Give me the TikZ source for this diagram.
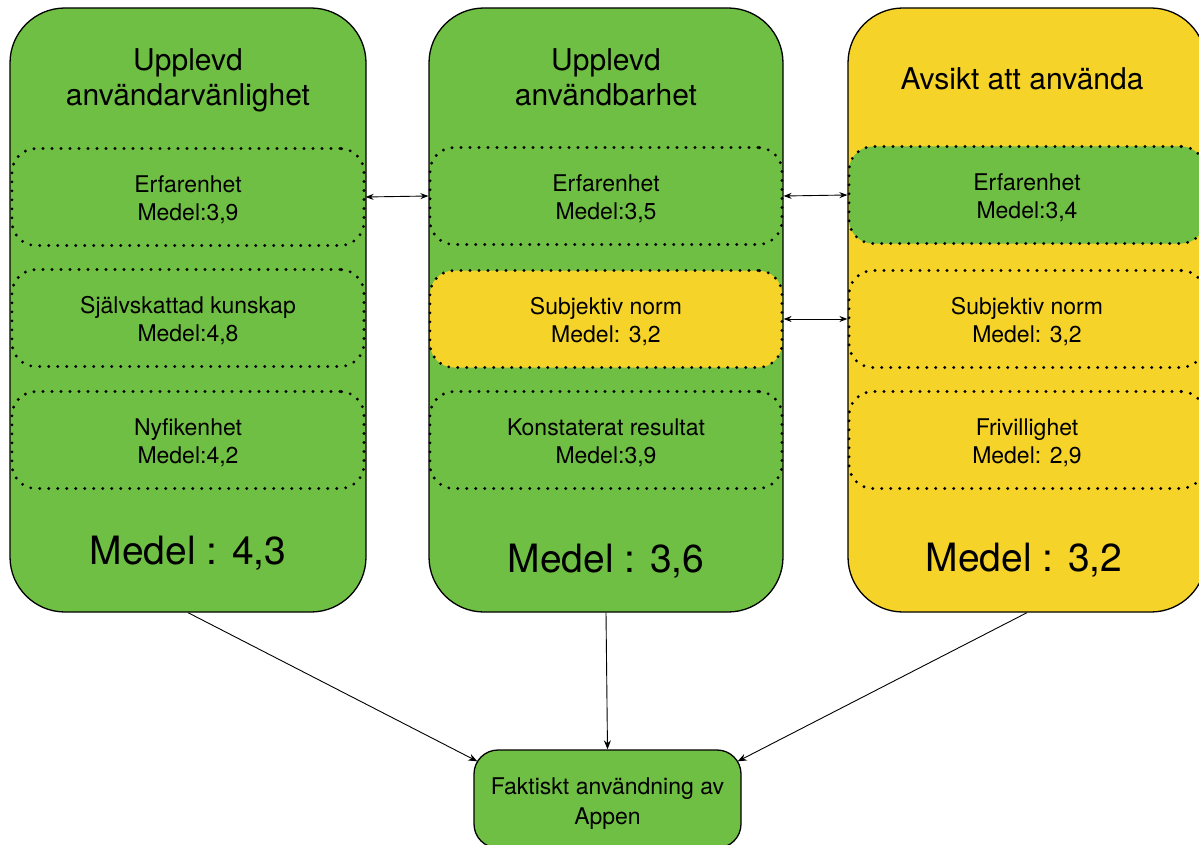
\documentclass[tikz,border=0pt]{standalone}
\usepackage{fontspec}
\setmainfont{TeX Gyre Heros}
\usetikzlibrary{arrows.meta,calc}
\definecolor{boxgreen}{RGB}{111,191,68}
\definecolor{boxyellow}{RGB}{245,211,41}
\tikzset{
  bigbox/.style={draw=black, line width=1.3pt, rounded corners=55pt, inner sep=0pt},
  subbox/.style={draw=black, line width=3.2pt, line cap=round, dash pattern=on 0pt off 9pt,
    rounded corners=24pt, minimum height=97pt, align=center, inner sep=0pt,
    font=\fontsize{23}{28}\selectfont},
  titletext/.style={align=center, font=\fontsize{30}{35}\selectfont},
  meantext/.style={font=\fontsize{39}{45}\selectfont},
  link/.style={line width=0.9pt, {Stealth[length=8pt,width=6pt]}-{Stealth[length=8pt,width=6pt]}},
  flow/.style={line width=0.9pt, -{Stealth[length=9pt,width=7pt]}},
}
\newcommand{\lowerby}[1]{\rule{0pt}{#1}}
\begin{document}
\begin{tikzpicture}[x=1pt,y=-1pt]
\useasboundingbox (0,0) rectangle (1199,845);
\clip (0,0) rectangle (1199,845);

% three main constructs
\node[bigbox, fill=boxgreen, minimum width=356pt, minimum height=604pt] (L) at (188,310) {};
\node[bigbox, fill=boxgreen, minimum width=354pt, minimum height=604pt] (M) at (606,310) {};
\node[bigbox, fill=boxyellow, minimum width=358pt, minimum height=604pt] (R) at (1027,310) {};

% headings
\node[titletext] (Lt) at (188,80) {Upplevd\\användarvänlighet};
\node[titletext] (Mt) at (606,77) {Upplevd\\användbarhet};
\node[titletext] (Rt) at (1022,79) {Avsikt att använda};

% sub-factors, left column
\node[subbox, fill=boxgreen, minimum width=352pt] (L1) at (188,197) {\lowerby{23pt}Erfarenhet\\Medel:3,9};
\node[subbox, fill=boxgreen, minimum width=352pt] (L2) at (188,318) {\lowerby{23pt}Självskattad kunskap\\Medel:4,8};
\node[subbox, fill=boxgreen, minimum width=352pt] (L3) at (188,440) {\lowerby{23pt}Nyfikenhet\\Medel:4,2};

% sub-factors, middle column
\node[subbox, fill=boxgreen, minimum width=352pt] (M1) at (606,196) {\lowerby{23pt}Erfarenhet\\Medel:3,5};
\node[subbox, fill=boxyellow, minimum width=352pt] (M2) at (606,319) {\lowerby{23pt}Subjektiv norm\\Medel: 3,2};
\node[subbox, fill=boxgreen, minimum width=352pt] (M3) at (606,440) {\lowerby{23pt}Konstaterat resultat\\Medel:3,9};

% sub-factors, right column
\node[subbox, fill=boxgreen, minimum width=356pt] (R1) at (1027,195) {\lowerby{23pt}Erfarenhet\\Medel:3,4};
\node[subbox, fill=boxyellow, minimum width=356pt] (R2) at (1027,319) {\lowerby{23pt}Subjektiv norm\\Medel: 3,2};
\node[subbox, fill=boxyellow, minimum width=356pt] (R3) at (1027,440) {\lowerby{23pt}Frivillighet\\Medel: 2,9};

% overall means
\node[meantext] (Lm) at (188,553) {Medel : 4,3};
\node[meantext] (Mm) at (606,561) {Medel : 3,6};
\node[meantext] (Rm) at (1024,560) {Medel : 3,2};

% outcome
\node[bigbox, fill=boxgreen, rounded corners=24pt, minimum width=267pt, minimum height=98pt,
  align=center, font=\fontsize{23}{30}\selectfont] (B) at (607.5,799) {\lowerby{26pt}Faktiskt användning av\\Appen};

% shared factors between columns
\draw[link] (L1.east) -- (M1.west);
\draw[link] (M1.east) -- (R1.west);
\draw[link] (M2.east) -- (R2.west);

% paths to actual use
\coordinate (Bl) at ($(B.north west)+(4,12)$);
\coordinate (Br) at ($(B.north east)+(-4,12)$);
\draw[flow] (L.south) -- (Bl);
\draw[flow] (M.south) -- (B.north);
\draw[flow] (R.south) -- (Br);
\end{tikzpicture}
\end{document}
